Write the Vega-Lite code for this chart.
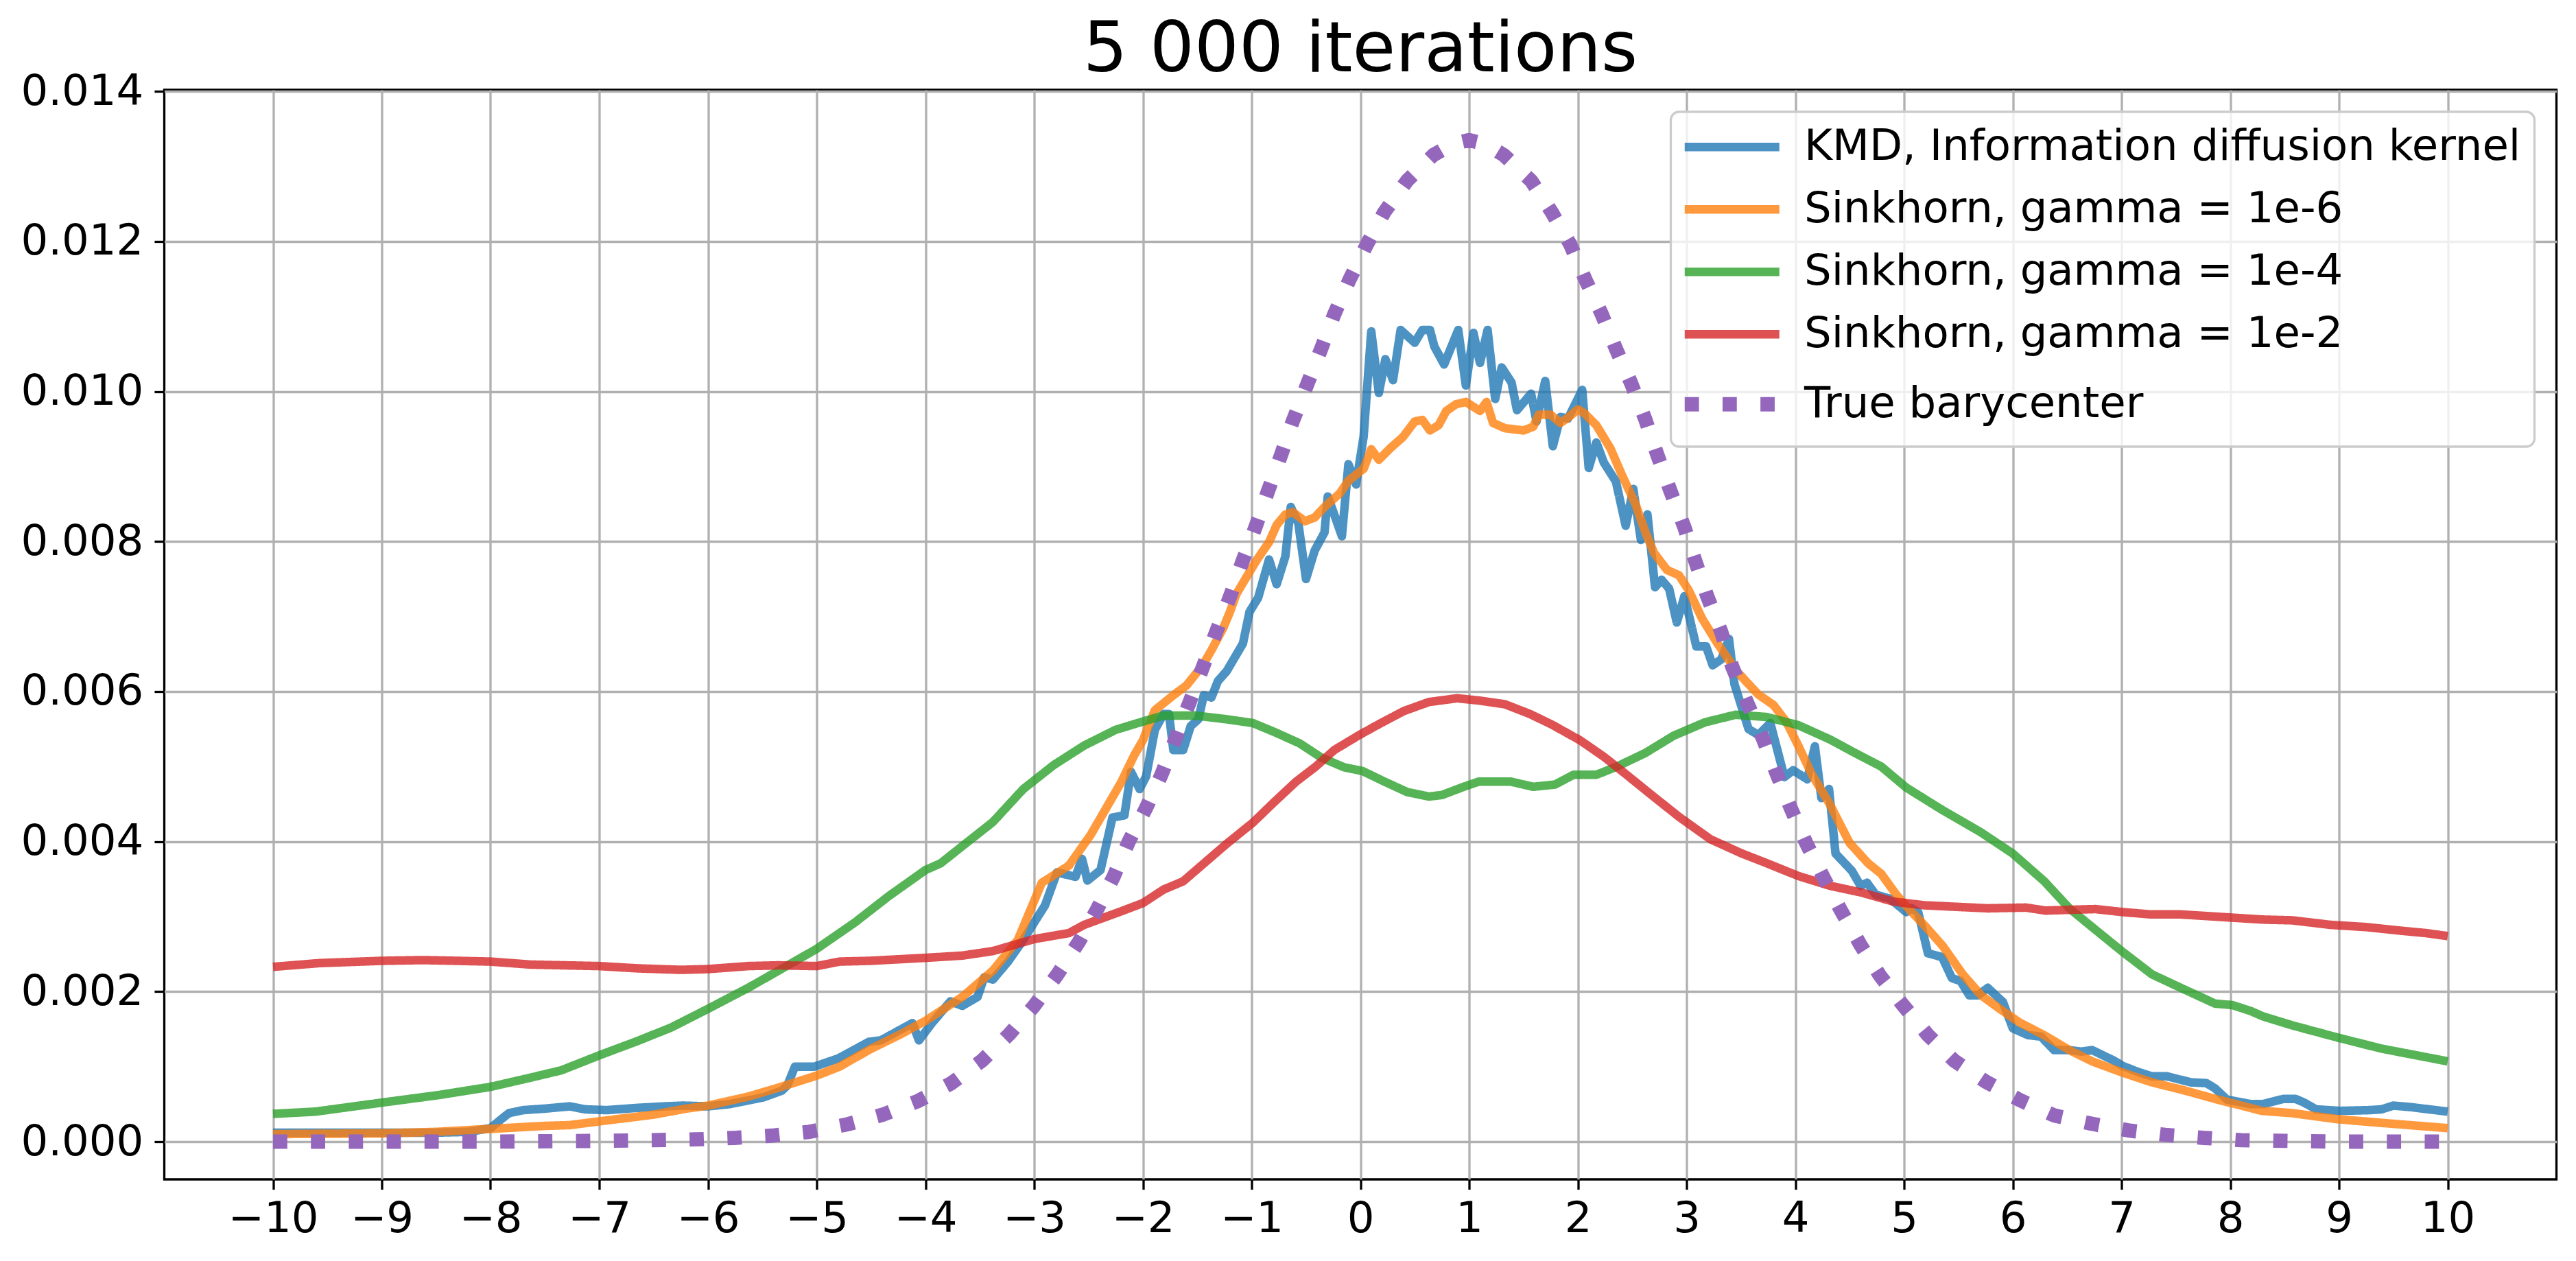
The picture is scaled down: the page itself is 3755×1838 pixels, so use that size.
{
  "$schema": "https://vega.github.io/schema/vega-lite/v6.json",
  "width": 3487,
  "height": 1588,
  "autosize": {"type": "none"},
  "padding": {"left": 239.5, "top": 131, "right": 28.5, "bottom": 119},
  "background": "white",
  "title": {"text": "5 000 iterations", "fontSize": 102, "font": "DejaVu Sans", "fontWeight": "normal", "color": "black", "anchor": "middle", "baseline": "alphabetic", "offset": -104},
  "config": {
    "font": "DejaVu Sans",
    "view": {"stroke": "black", "strokeWidth": 3.3},
    "axis": {"labelFont": "DejaVu Sans", "labelFontSize": 62.5, "labelColor": "black", "tickColor": "black", "tickWidth": 3.3, "tickSize": 14.6, "grid": true, "gridColor": "#b0b0b0", "gridWidth": 3.3, "domain": false, "title": null, "labelOverlap": false, "labelFlush": false},
    "legend": {"fillColor": "rgba(255,255,255,0.8)", "strokeColor": "#cccccc", "cornerRadius": 12, "strokeWidth": 3.3, "padding": 20, "rowPadding": 28, "labelLimit": 3000}
  },
  "data": {"values": [
    {"s":"KMD, Information diffusion kernel","x":-10,"y":0.00012},
    {"s":"KMD, Information diffusion kernel","x":-9.5,"y":0.00012},
    {"s":"KMD, Information diffusion kernel","x":-9,"y":0.00012},
    {"s":"KMD, Information diffusion kernel","x":-8.5,"y":0.00012},
    {"s":"KMD, Information diffusion kernel","x":-8.2,"y":0.00013},
    {"s":"KMD, Information diffusion kernel","x":-8,"y":0.00018},
    {"s":"KMD, Information diffusion kernel","x":-7.9,"y":0.0003},
    {"s":"KMD, Information diffusion kernel","x":-7.83,"y":0.00038},
    {"s":"KMD, Information diffusion kernel","x":-7.7,"y":0.00042},
    {"s":"KMD, Information diffusion kernel","x":-7.5,"y":0.00044},
    {"s":"KMD, Information diffusion kernel","x":-7.35,"y":0.00046},
    {"s":"KMD, Information diffusion kernel","x":-7.27,"y":0.00047},
    {"s":"KMD, Information diffusion kernel","x":-7.13,"y":0.00043},
    {"s":"KMD, Information diffusion kernel","x":-6.93,"y":0.00042},
    {"s":"KMD, Information diffusion kernel","x":-6.65,"y":0.00045},
    {"s":"KMD, Information diffusion kernel","x":-6.4,"y":0.00047},
    {"s":"KMD, Information diffusion kernel","x":-6.23,"y":0.00048},
    {"s":"KMD, Information diffusion kernel","x":-6,"y":0.00047},
    {"s":"KMD, Information diffusion kernel","x":-5.8,"y":0.0005},
    {"s":"KMD, Information diffusion kernel","x":-5.49,"y":0.00059},
    {"s":"KMD, Information diffusion kernel","x":-5.32,"y":0.00068},
    {"s":"KMD, Information diffusion kernel","x":-5.27,"y":0.00075},
    {"s":"KMD, Information diffusion kernel","x":-5.2,"y":0.001},
    {"s":"KMD, Information diffusion kernel","x":-5.02,"y":0.001},
    {"s":"KMD, Information diffusion kernel","x":-4.8,"y":0.00111},
    {"s":"KMD, Information diffusion kernel","x":-4.52,"y":0.00133},
    {"s":"KMD, Information diffusion kernel","x":-4.41,"y":0.00135},
    {"s":"KMD, Information diffusion kernel","x":-4.12,"y":0.00158},
    {"s":"KMD, Information diffusion kernel","x":-4.06,"y":0.00135},
    {"s":"KMD, Information diffusion kernel","x":-3.94,"y":0.00158},
    {"s":"KMD, Information diffusion kernel","x":-3.77,"y":0.00187},
    {"s":"KMD, Information diffusion kernel","x":-3.66,"y":0.00181},
    {"s":"KMD, Information diffusion kernel","x":-3.52,"y":0.00193},
    {"s":"KMD, Information diffusion kernel","x":-3.46,"y":0.00219},
    {"s":"KMD, Information diffusion kernel","x":-3.38,"y":0.00216},
    {"s":"KMD, Information diffusion kernel","x":-3.24,"y":0.0024},
    {"s":"KMD, Information diffusion kernel","x":-3.1,"y":0.00269},
    {"s":"KMD, Information diffusion kernel","x":-2.9,"y":0.00315},
    {"s":"KMD, Information diffusion kernel","x":-2.79,"y":0.00359},
    {"s":"KMD, Information diffusion kernel","x":-2.62,"y":0.00353},
    {"s":"KMD, Information diffusion kernel","x":-2.56,"y":0.00377},
    {"s":"KMD, Information diffusion kernel","x":-2.51,"y":0.00348},
    {"s":"KMD, Information diffusion kernel","x":-2.39,"y":0.00362},
    {"s":"KMD, Information diffusion kernel","x":-2.28,"y":0.00432},
    {"s":"KMD, Information diffusion kernel","x":-2.17,"y":0.00435},
    {"s":"KMD, Information diffusion kernel","x":-2.11,"y":0.00493},
    {"s":"KMD, Information diffusion kernel","x":-2.03,"y":0.0047},
    {"s":"KMD, Information diffusion kernel","x":-1.97,"y":0.00487},
    {"s":"KMD, Information diffusion kernel","x":-1.89,"y":0.00549},
    {"s":"KMD, Information diffusion kernel","x":-1.81,"y":0.0057},
    {"s":"KMD, Information diffusion kernel","x":-1.76,"y":0.0057},
    {"s":"KMD, Information diffusion kernel","x":-1.72,"y":0.00522},
    {"s":"KMD, Information diffusion kernel","x":-1.63,"y":0.00522},
    {"s":"KMD, Information diffusion kernel","x":-1.56,"y":0.00554},
    {"s":"KMD, Information diffusion kernel","x":-1.49,"y":0.00563},
    {"s":"KMD, Information diffusion kernel","x":-1.44,"y":0.00595},
    {"s":"KMD, Information diffusion kernel","x":-1.37,"y":0.00592},
    {"s":"KMD, Information diffusion kernel","x":-1.31,"y":0.00614},
    {"s":"KMD, Information diffusion kernel","x":-1.23,"y":0.00627},
    {"s":"KMD, Information diffusion kernel","x":-1.08,"y":0.00664},
    {"s":"KMD, Information diffusion kernel","x":-1.02,"y":0.00706},
    {"s":"KMD, Information diffusion kernel","x":-0.94,"y":0.00725},
    {"s":"KMD, Information diffusion kernel","x":-0.84,"y":0.00776},
    {"s":"KMD, Information diffusion kernel","x":-0.77,"y":0.00743},
    {"s":"KMD, Information diffusion kernel","x":-0.69,"y":0.0078},
    {"s":"KMD, Information diffusion kernel","x":-0.64,"y":0.00846},
    {"s":"KMD, Information diffusion kernel","x":-0.57,"y":0.00824},
    {"s":"KMD, Information diffusion kernel","x":-0.5,"y":0.0075},
    {"s":"KMD, Information diffusion kernel","x":-0.42,"y":0.00788},
    {"s":"KMD, Information diffusion kernel","x":-0.33,"y":0.00812},
    {"s":"KMD, Information diffusion kernel","x":-0.3,"y":0.0086},
    {"s":"KMD, Information diffusion kernel","x":-0.26,"y":0.00844},
    {"s":"KMD, Information diffusion kernel","x":-0.17,"y":0.00807},
    {"s":"KMD, Information diffusion kernel","x":-0.11,"y":0.00903},
    {"s":"KMD, Information diffusion kernel","x":-0.04,"y":0.00876},
    {"s":"KMD, Information diffusion kernel","x":0.03,"y":0.0094},
    {"s":"KMD, Information diffusion kernel","x":0.1,"y":0.0108},
    {"s":"KMD, Information diffusion kernel","x":0.17,"y":0.00998},
    {"s":"KMD, Information diffusion kernel","x":0.23,"y":0.01043},
    {"s":"KMD, Information diffusion kernel","x":0.3,"y":0.01015},
    {"s":"KMD, Information diffusion kernel","x":0.37,"y":0.01082},
    {"s":"KMD, Information diffusion kernel","x":0.5,"y":0.01065},
    {"s":"KMD, Information diffusion kernel","x":0.57,"y":0.01082},
    {"s":"KMD, Information diffusion kernel","x":0.64,"y":0.01082},
    {"s":"KMD, Information diffusion kernel","x":0.68,"y":0.0106},
    {"s":"KMD, Information diffusion kernel","x":0.77,"y":0.01036},
    {"s":"KMD, Information diffusion kernel","x":0.9,"y":0.01082},
    {"s":"KMD, Information diffusion kernel","x":0.97,"y":0.01008},
    {"s":"KMD, Information diffusion kernel","x":1.04,"y":0.01078},
    {"s":"KMD, Information diffusion kernel","x":1.1,"y":0.01038},
    {"s":"KMD, Information diffusion kernel","x":1.17,"y":0.01082},
    {"s":"KMD, Information diffusion kernel","x":1.24,"y":0.0099},
    {"s":"KMD, Information diffusion kernel","x":1.3,"y":0.01032},
    {"s":"KMD, Information diffusion kernel","x":1.39,"y":0.01012},
    {"s":"KMD, Information diffusion kernel","x":1.44,"y":0.00975},
    {"s":"KMD, Information diffusion kernel","x":1.57,"y":0.00997},
    {"s":"KMD, Information diffusion kernel","x":1.62,"y":0.0096},
    {"s":"KMD, Information diffusion kernel","x":1.7,"y":0.01014},
    {"s":"KMD, Information diffusion kernel","x":1.77,"y":0.00927},
    {"s":"KMD, Information diffusion kernel","x":1.84,"y":0.00966},
    {"s":"KMD, Information diffusion kernel","x":1.91,"y":0.00964},
    {"s":"KMD, Information diffusion kernel","x":2.04,"y":0.01002},
    {"s":"KMD, Information diffusion kernel","x":2.1,"y":0.00898},
    {"s":"KMD, Information diffusion kernel","x":2.17,"y":0.00932},
    {"s":"KMD, Information diffusion kernel","x":2.24,"y":0.00905},
    {"s":"KMD, Information diffusion kernel","x":2.35,"y":0.0088},
    {"s":"KMD, Information diffusion kernel","x":2.44,"y":0.00821},
    {"s":"KMD, Information diffusion kernel","x":2.51,"y":0.0087},
    {"s":"KMD, Information diffusion kernel","x":2.58,"y":0.00802},
    {"s":"KMD, Information diffusion kernel","x":2.64,"y":0.00836},
    {"s":"KMD, Information diffusion kernel","x":2.71,"y":0.00739},
    {"s":"KMD, Information diffusion kernel","x":2.77,"y":0.00749},
    {"s":"KMD, Information diffusion kernel","x":2.84,"y":0.00737},
    {"s":"KMD, Information diffusion kernel","x":2.91,"y":0.00692},
    {"s":"KMD, Information diffusion kernel","x":2.98,"y":0.00727},
    {"s":"KMD, Information diffusion kernel","x":3.09,"y":0.0066},
    {"s":"KMD, Information diffusion kernel","x":3.18,"y":0.0066},
    {"s":"KMD, Information diffusion kernel","x":3.24,"y":0.00635},
    {"s":"KMD, Information diffusion kernel","x":3.32,"y":0.00643},
    {"s":"KMD, Information diffusion kernel","x":3.39,"y":0.0067},
    {"s":"KMD, Information diffusion kernel","x":3.44,"y":0.0061},
    {"s":"KMD, Information diffusion kernel","x":3.57,"y":0.0055},
    {"s":"KMD, Information diffusion kernel","x":3.66,"y":0.00542},
    {"s":"KMD, Information diffusion kernel","x":3.77,"y":0.00558},
    {"s":"KMD, Information diffusion kernel","x":3.9,"y":0.00486},
    {"s":"KMD, Information diffusion kernel","x":3.98,"y":0.00495},
    {"s":"KMD, Information diffusion kernel","x":4.11,"y":0.00483},
    {"s":"KMD, Information diffusion kernel","x":4.18,"y":0.00527},
    {"s":"KMD, Information diffusion kernel","x":4.24,"y":0.00458},
    {"s":"KMD, Information diffusion kernel","x":4.31,"y":0.0047},
    {"s":"KMD, Information diffusion kernel","x":4.37,"y":0.00384},
    {"s":"KMD, Information diffusion kernel","x":4.52,"y":0.00361},
    {"s":"KMD, Information diffusion kernel","x":4.6,"y":0.00341},
    {"s":"KMD, Information diffusion kernel","x":4.66,"y":0.00345},
    {"s":"KMD, Information diffusion kernel","x":4.74,"y":0.00329},
    {"s":"KMD, Information diffusion kernel","x":4.87,"y":0.00324},
    {"s":"KMD, Information diffusion kernel","x":5.02,"y":0.00306},
    {"s":"KMD, Information diffusion kernel","x":5.07,"y":0.00311},
    {"s":"KMD, Information diffusion kernel","x":5.13,"y":0.00306},
    {"s":"KMD, Information diffusion kernel","x":5.22,"y":0.00251},
    {"s":"KMD, Information diffusion kernel","x":5.35,"y":0.00246},
    {"s":"KMD, Information diffusion kernel","x":5.44,"y":0.00218},
    {"s":"KMD, Information diffusion kernel","x":5.52,"y":0.00214},
    {"s":"KMD, Information diffusion kernel","x":5.6,"y":0.00195},
    {"s":"KMD, Information diffusion kernel","x":5.68,"y":0.00195},
    {"s":"KMD, Information diffusion kernel","x":5.77,"y":0.00205},
    {"s":"KMD, Information diffusion kernel","x":5.91,"y":0.00186},
    {"s":"KMD, Information diffusion kernel","x":6,"y":0.00151},
    {"s":"KMD, Information diffusion kernel","x":6.14,"y":0.00142},
    {"s":"KMD, Information diffusion kernel","x":6.26,"y":0.0014},
    {"s":"KMD, Information diffusion kernel","x":6.38,"y":0.00122},
    {"s":"KMD, Information diffusion kernel","x":6.52,"y":0.00122},
    {"s":"KMD, Information diffusion kernel","x":6.63,"y":0.0012},
    {"s":"KMD, Information diffusion kernel","x":6.73,"y":0.00122},
    {"s":"KMD, Information diffusion kernel","x":6.93,"y":0.00108},
    {"s":"KMD, Information diffusion kernel","x":7.01,"y":0.00101},
    {"s":"KMD, Information diffusion kernel","x":7.15,"y":0.00093},
    {"s":"KMD, Information diffusion kernel","x":7.28,"y":0.00087},
    {"s":"KMD, Information diffusion kernel","x":7.42,"y":0.00087},
    {"s":"KMD, Information diffusion kernel","x":7.64,"y":0.00079},
    {"s":"KMD, Information diffusion kernel","x":7.78,"y":0.00078},
    {"s":"KMD, Information diffusion kernel","x":7.86,"y":0.00071},
    {"s":"KMD, Information diffusion kernel","x":7.97,"y":0.00056},
    {"s":"KMD, Information diffusion kernel","x":8.19,"y":0.0005},
    {"s":"KMD, Information diffusion kernel","x":8.3,"y":0.0005},
    {"s":"KMD, Information diffusion kernel","x":8.49,"y":0.00057},
    {"s":"KMD, Information diffusion kernel","x":8.6,"y":0.00057},
    {"s":"KMD, Information diffusion kernel","x":8.68,"y":0.00052},
    {"s":"KMD, Information diffusion kernel","x":8.79,"y":0.00043},
    {"s":"KMD, Information diffusion kernel","x":9.01,"y":0.00041},
    {"s":"KMD, Information diffusion kernel","x":9.28,"y":0.00042},
    {"s":"KMD, Information diffusion kernel","x":9.39,"y":0.00043},
    {"s":"KMD, Information diffusion kernel","x":9.5,"y":0.00048},
    {"s":"KMD, Information diffusion kernel","x":9.66,"y":0.00046},
    {"s":"KMD, Information diffusion kernel","x":10,"y":0.0004},

    {"s":"Sinkhorn, gamma = 1e-6","x":-10,"y":0.0001},
    {"s":"Sinkhorn, gamma = 1e-6","x":-9,"y":0.00011},
    {"s":"Sinkhorn, gamma = 1e-6","x":-8.5,"y":0.00013},
    {"s":"Sinkhorn, gamma = 1e-6","x":-8,"y":0.00017},
    {"s":"Sinkhorn, gamma = 1e-6","x":-7.5,"y":0.00021},
    {"s":"Sinkhorn, gamma = 1e-6","x":-7.27,"y":0.00022},
    {"s":"Sinkhorn, gamma = 1e-6","x":-7,"y":0.00027},
    {"s":"Sinkhorn, gamma = 1e-6","x":-6.5,"y":0.00036},
    {"s":"Sinkhorn, gamma = 1e-6","x":-6.2,"y":0.00044},
    {"s":"Sinkhorn, gamma = 1e-6","x":-6,"y":0.00048},
    {"s":"Sinkhorn, gamma = 1e-6","x":-5.63,"y":0.0006},
    {"s":"Sinkhorn, gamma = 1e-6","x":-5.35,"y":0.00072},
    {"s":"Sinkhorn, gamma = 1e-6","x":-5,"y":0.00088},
    {"s":"Sinkhorn, gamma = 1e-6","x":-4.79,"y":0.001},
    {"s":"Sinkhorn, gamma = 1e-6","x":-4.51,"y":0.00123},
    {"s":"Sinkhorn, gamma = 1e-6","x":-4.23,"y":0.00143},
    {"s":"Sinkhorn, gamma = 1e-6","x":-4,"y":0.00161},
    {"s":"Sinkhorn, gamma = 1e-6","x":-3.66,"y":0.00193},
    {"s":"Sinkhorn, gamma = 1e-6","x":-3.38,"y":0.00228},
    {"s":"Sinkhorn, gamma = 1e-6","x":-3.15,"y":0.00269},
    {"s":"Sinkhorn, gamma = 1e-6","x":-2.93,"y":0.00345},
    {"s":"Sinkhorn, gamma = 1e-6","x":-2.68,"y":0.00368},
    {"s":"Sinkhorn, gamma = 1e-6","x":-2.48,"y":0.00409},
    {"s":"Sinkhorn, gamma = 1e-6","x":-2.2,"y":0.00479},
    {"s":"Sinkhorn, gamma = 1e-6","x":-2.08,"y":0.00515},
    {"s":"Sinkhorn, gamma = 1e-6","x":-2,"y":0.00535},
    {"s":"Sinkhorn, gamma = 1e-6","x":-1.89,"y":0.00575},
    {"s":"Sinkhorn, gamma = 1e-6","x":-1.78,"y":0.00588},
    {"s":"Sinkhorn, gamma = 1e-6","x":-1.72,"y":0.00595},
    {"s":"Sinkhorn, gamma = 1e-6","x":-1.6,"y":0.00608},
    {"s":"Sinkhorn, gamma = 1e-6","x":-1.45,"y":0.00635},
    {"s":"Sinkhorn, gamma = 1e-6","x":-1.37,"y":0.00655},
    {"s":"Sinkhorn, gamma = 1e-6","x":-1.26,"y":0.00685},
    {"s":"Sinkhorn, gamma = 1e-6","x":-1.2,"y":0.00706},
    {"s":"Sinkhorn, gamma = 1e-6","x":-1.14,"y":0.0073},
    {"s":"Sinkhorn, gamma = 1e-6","x":-1.05,"y":0.00752},
    {"s":"Sinkhorn, gamma = 1e-6","x":-0.95,"y":0.00776},
    {"s":"Sinkhorn, gamma = 1e-6","x":-0.84,"y":0.00799},
    {"s":"Sinkhorn, gamma = 1e-6","x":-0.77,"y":0.00822},
    {"s":"Sinkhorn, gamma = 1e-6","x":-0.69,"y":0.00836},
    {"s":"Sinkhorn, gamma = 1e-6","x":-0.62,"y":0.00839},
    {"s":"Sinkhorn, gamma = 1e-6","x":-0.51,"y":0.00827},
    {"s":"Sinkhorn, gamma = 1e-6","x":-0.42,"y":0.00832},
    {"s":"Sinkhorn, gamma = 1e-6","x":-0.33,"y":0.00846},
    {"s":"Sinkhorn, gamma = 1e-6","x":-0.19,"y":0.00864},
    {"s":"Sinkhorn, gamma = 1e-6","x":-0.11,"y":0.00881},
    {"s":"Sinkhorn, gamma = 1e-6","x":0.03,"y":0.00897},
    {"s":"Sinkhorn, gamma = 1e-6","x":0.1,"y":0.00923},
    {"s":"Sinkhorn, gamma = 1e-6","x":0.17,"y":0.00909},
    {"s":"Sinkhorn, gamma = 1e-6","x":0.28,"y":0.00925},
    {"s":"Sinkhorn, gamma = 1e-6","x":0.39,"y":0.00939},
    {"s":"Sinkhorn, gamma = 1e-6","x":0.5,"y":0.0096},
    {"s":"Sinkhorn, gamma = 1e-6","x":0.57,"y":0.00962},
    {"s":"Sinkhorn, gamma = 1e-6","x":0.64,"y":0.00948},
    {"s":"Sinkhorn, gamma = 1e-6","x":0.72,"y":0.00955},
    {"s":"Sinkhorn, gamma = 1e-6","x":0.79,"y":0.00974},
    {"s":"Sinkhorn, gamma = 1e-6","x":0.88,"y":0.00983},
    {"s":"Sinkhorn, gamma = 1e-6","x":0.97,"y":0.00986},
    {"s":"Sinkhorn, gamma = 1e-6","x":1.1,"y":0.00974},
    {"s":"Sinkhorn, gamma = 1e-6","x":1.16,"y":0.00986},
    {"s":"Sinkhorn, gamma = 1e-6","x":1.22,"y":0.00958},
    {"s":"Sinkhorn, gamma = 1e-6","x":1.33,"y":0.00951},
    {"s":"Sinkhorn, gamma = 1e-6","x":1.5,"y":0.00948},
    {"s":"Sinkhorn, gamma = 1e-6","x":1.59,"y":0.00953},
    {"s":"Sinkhorn, gamma = 1e-6","x":1.64,"y":0.00969},
    {"s":"Sinkhorn, gamma = 1e-6","x":1.75,"y":0.00969},
    {"s":"Sinkhorn, gamma = 1e-6","x":1.84,"y":0.00958},
    {"s":"Sinkhorn, gamma = 1e-6","x":1.91,"y":0.00965},
    {"s":"Sinkhorn, gamma = 1e-6","x":2,"y":0.00976},
    {"s":"Sinkhorn, gamma = 1e-6","x":2.06,"y":0.00971},
    {"s":"Sinkhorn, gamma = 1e-6","x":2.17,"y":0.00955},
    {"s":"Sinkhorn, gamma = 1e-6","x":2.3,"y":0.00924},
    {"s":"Sinkhorn, gamma = 1e-6","x":2.41,"y":0.00887},
    {"s":"Sinkhorn, gamma = 1e-6","x":2.53,"y":0.0085},
    {"s":"Sinkhorn, gamma = 1e-6","x":2.62,"y":0.00813},
    {"s":"Sinkhorn, gamma = 1e-6","x":2.7,"y":0.00785},
    {"s":"Sinkhorn, gamma = 1e-6","x":2.82,"y":0.00762},
    {"s":"Sinkhorn, gamma = 1e-6","x":2.93,"y":0.00755},
    {"s":"Sinkhorn, gamma = 1e-6","x":3.02,"y":0.00735},
    {"s":"Sinkhorn, gamma = 1e-6","x":3.14,"y":0.00698},
    {"s":"Sinkhorn, gamma = 1e-6","x":3.28,"y":0.00665},
    {"s":"Sinkhorn, gamma = 1e-6","x":3.45,"y":0.00629},
    {"s":"Sinkhorn, gamma = 1e-6","x":3.55,"y":0.00613},
    {"s":"Sinkhorn, gamma = 1e-6","x":3.66,"y":0.00596},
    {"s":"Sinkhorn, gamma = 1e-6","x":3.8,"y":0.00582},
    {"s":"Sinkhorn, gamma = 1e-6","x":3.92,"y":0.00559},
    {"s":"Sinkhorn, gamma = 1e-6","x":4.03,"y":0.00527},
    {"s":"Sinkhorn, gamma = 1e-6","x":4.15,"y":0.0049},
    {"s":"Sinkhorn, gamma = 1e-6","x":4.32,"y":0.00449},
    {"s":"Sinkhorn, gamma = 1e-6","x":4.5,"y":0.00398},
    {"s":"Sinkhorn, gamma = 1e-6","x":4.67,"y":0.00371},
    {"s":"Sinkhorn, gamma = 1e-6","x":4.79,"y":0.00357},
    {"s":"Sinkhorn, gamma = 1e-6","x":4.93,"y":0.00329},
    {"s":"Sinkhorn, gamma = 1e-6","x":5.07,"y":0.00306},
    {"s":"Sinkhorn, gamma = 1e-6","x":5.19,"y":0.00288},
    {"s":"Sinkhorn, gamma = 1e-6","x":5.36,"y":0.0026},
    {"s":"Sinkhorn, gamma = 1e-6","x":5.54,"y":0.00223},
    {"s":"Sinkhorn, gamma = 1e-6","x":5.71,"y":0.00195},
    {"s":"Sinkhorn, gamma = 1e-6","x":5.88,"y":0.00177},
    {"s":"Sinkhorn, gamma = 1e-6","x":6.06,"y":0.00159},
    {"s":"Sinkhorn, gamma = 1e-6","x":6.3,"y":0.00141},
    {"s":"Sinkhorn, gamma = 1e-6","x":6.52,"y":0.00122},
    {"s":"Sinkhorn, gamma = 1e-6","x":6.73,"y":0.00107},
    {"s":"Sinkhorn, gamma = 1e-6","x":7.01,"y":0.00092},
    {"s":"Sinkhorn, gamma = 1e-6","x":7.28,"y":0.00079},
    {"s":"Sinkhorn, gamma = 1e-6","x":7.56,"y":0.00069},
    {"s":"Sinkhorn, gamma = 1e-6","x":7.86,"y":0.00057},
    {"s":"Sinkhorn, gamma = 1e-6","x":8.29,"y":0.00041},
    {"s":"Sinkhorn, gamma = 1e-6","x":8.57,"y":0.00038},
    {"s":"Sinkhorn, gamma = 1e-6","x":8.98,"y":0.0003},
    {"s":"Sinkhorn, gamma = 1e-6","x":9.39,"y":0.00025},
    {"s":"Sinkhorn, gamma = 1e-6","x":10,"y":0.00018},

    {"s":"Sinkhorn, gamma = 1e-4","x":-10,"y":0.00037},
    {"s":"Sinkhorn, gamma = 1e-4","x":-9.61,"y":0.0004},
    {"s":"Sinkhorn, gamma = 1e-4","x":-9,"y":0.00052},
    {"s":"Sinkhorn, gamma = 1e-4","x":-8.48,"y":0.00062},
    {"s":"Sinkhorn, gamma = 1e-4","x":-8,"y":0.00073},
    {"s":"Sinkhorn, gamma = 1e-4","x":-7.64,"y":0.00085},
    {"s":"Sinkhorn, gamma = 1e-4","x":-7.35,"y":0.00095},
    {"s":"Sinkhorn, gamma = 1e-4","x":-7,"y":0.00115},
    {"s":"Sinkhorn, gamma = 1e-4","x":-6.65,"y":0.00134},
    {"s":"Sinkhorn, gamma = 1e-4","x":-6.34,"y":0.00152},
    {"s":"Sinkhorn, gamma = 1e-4","x":-6,"y":0.00177},
    {"s":"Sinkhorn, gamma = 1e-4","x":-5.63,"y":0.00205},
    {"s":"Sinkhorn, gamma = 1e-4","x":-5.35,"y":0.00228},
    {"s":"Sinkhorn, gamma = 1e-4","x":-5,"y":0.00257},
    {"s":"Sinkhorn, gamma = 1e-4","x":-4.65,"y":0.00292},
    {"s":"Sinkhorn, gamma = 1e-4","x":-4.34,"y":0.00327},
    {"s":"Sinkhorn, gamma = 1e-4","x":-4,"y":0.00362},
    {"s":"Sinkhorn, gamma = 1e-4","x":-3.86,"y":0.00371},
    {"s":"Sinkhorn, gamma = 1e-4","x":-3.66,"y":0.00394},
    {"s":"Sinkhorn, gamma = 1e-4","x":-3.38,"y":0.00426},
    {"s":"Sinkhorn, gamma = 1e-4","x":-3.1,"y":0.0047},
    {"s":"Sinkhorn, gamma = 1e-4","x":-2.82,"y":0.00502},
    {"s":"Sinkhorn, gamma = 1e-4","x":-2.54,"y":0.00528},
    {"s":"Sinkhorn, gamma = 1e-4","x":-2.25,"y":0.00549},
    {"s":"Sinkhorn, gamma = 1e-4","x":-2,"y":0.0056},
    {"s":"Sinkhorn, gamma = 1e-4","x":-1.81,"y":0.00568},
    {"s":"Sinkhorn, gamma = 1e-4","x":-1.52,"y":0.00568},
    {"s":"Sinkhorn, gamma = 1e-4","x":-1.23,"y":0.00563},
    {"s":"Sinkhorn, gamma = 1e-4","x":-0.99,"y":0.00558},
    {"s":"Sinkhorn, gamma = 1e-4","x":-0.79,"y":0.00546},
    {"s":"Sinkhorn, gamma = 1e-4","x":-0.56,"y":0.00531},
    {"s":"Sinkhorn, gamma = 1e-4","x":-0.36,"y":0.00512},
    {"s":"Sinkhorn, gamma = 1e-4","x":-0.15,"y":0.00499},
    {"s":"Sinkhorn, gamma = 1e-4","x":0.02,"y":0.00494},
    {"s":"Sinkhorn, gamma = 1e-4","x":0.22,"y":0.0048},
    {"s":"Sinkhorn, gamma = 1e-4","x":0.43,"y":0.00466},
    {"s":"Sinkhorn, gamma = 1e-4","x":0.63,"y":0.0046},
    {"s":"Sinkhorn, gamma = 1e-4","x":0.75,"y":0.00462},
    {"s":"Sinkhorn, gamma = 1e-4","x":0.95,"y":0.00473},
    {"s":"Sinkhorn, gamma = 1e-4","x":1.09,"y":0.0048},
    {"s":"Sinkhorn, gamma = 1e-4","x":1.38,"y":0.0048},
    {"s":"Sinkhorn, gamma = 1e-4","x":1.59,"y":0.00473},
    {"s":"Sinkhorn, gamma = 1e-4","x":1.79,"y":0.00476},
    {"s":"Sinkhorn, gamma = 1e-4","x":1.96,"y":0.00489},
    {"s":"Sinkhorn, gamma = 1e-4","x":2.17,"y":0.00489},
    {"s":"Sinkhorn, gamma = 1e-4","x":2.36,"y":0.005},
    {"s":"Sinkhorn, gamma = 1e-4","x":2.62,"y":0.00518},
    {"s":"Sinkhorn, gamma = 1e-4","x":2.88,"y":0.00541},
    {"s":"Sinkhorn, gamma = 1e-4","x":3.17,"y":0.00559},
    {"s":"Sinkhorn, gamma = 1e-4","x":3.45,"y":0.00569},
    {"s":"Sinkhorn, gamma = 1e-4","x":3.74,"y":0.00566},
    {"s":"Sinkhorn, gamma = 1e-4","x":4.03,"y":0.00555},
    {"s":"Sinkhorn, gamma = 1e-4","x":4.32,"y":0.00536},
    {"s":"Sinkhorn, gamma = 1e-4","x":4.55,"y":0.00518},
    {"s":"Sinkhorn, gamma = 1e-4","x":4.79,"y":0.005},
    {"s":"Sinkhorn, gamma = 1e-4","x":5.02,"y":0.00472},
    {"s":"Sinkhorn, gamma = 1e-4","x":5.33,"y":0.00444},
    {"s":"Sinkhorn, gamma = 1e-4","x":5.71,"y":0.00412},
    {"s":"Sinkhorn, gamma = 1e-4","x":6,"y":0.00384},
    {"s":"Sinkhorn, gamma = 1e-4","x":6.29,"y":0.00347},
    {"s":"Sinkhorn, gamma = 1e-4","x":6.52,"y":0.00311},
    {"s":"Sinkhorn, gamma = 1e-4","x":6.73,"y":0.00286},
    {"s":"Sinkhorn, gamma = 1e-4","x":7.01,"y":0.00253},
    {"s":"Sinkhorn, gamma = 1e-4","x":7.28,"y":0.00223},
    {"s":"Sinkhorn, gamma = 1e-4","x":7.56,"y":0.00204},
    {"s":"Sinkhorn, gamma = 1e-4","x":7.86,"y":0.00184},
    {"s":"Sinkhorn, gamma = 1e-4","x":8.02,"y":0.00182},
    {"s":"Sinkhorn, gamma = 1e-4","x":8.19,"y":0.00174},
    {"s":"Sinkhorn, gamma = 1e-4","x":8.3,"y":0.00167},
    {"s":"Sinkhorn, gamma = 1e-4","x":8.57,"y":0.00155},
    {"s":"Sinkhorn, gamma = 1e-4","x":8.98,"y":0.00139},
    {"s":"Sinkhorn, gamma = 1e-4","x":9.39,"y":0.00124},
    {"s":"Sinkhorn, gamma = 1e-4","x":9.75,"y":0.00114},
    {"s":"Sinkhorn, gamma = 1e-4","x":10,"y":0.00107},

    {"s":"Sinkhorn, gamma = 1e-2","x":-10,"y":0.00233},
    {"s":"Sinkhorn, gamma = 1e-2","x":-9.57,"y":0.00238},
    {"s":"Sinkhorn, gamma = 1e-2","x":-9,"y":0.00241},
    {"s":"Sinkhorn, gamma = 1e-2","x":-8.62,"y":0.00242},
    {"s":"Sinkhorn, gamma = 1e-2","x":-8,"y":0.0024},
    {"s":"Sinkhorn, gamma = 1e-2","x":-7.63,"y":0.00236},
    {"s":"Sinkhorn, gamma = 1e-2","x":-7,"y":0.00234},
    {"s":"Sinkhorn, gamma = 1e-2","x":-6.65,"y":0.00231},
    {"s":"Sinkhorn, gamma = 1e-2","x":-6.25,"y":0.00229},
    {"s":"Sinkhorn, gamma = 1e-2","x":-6,"y":0.0023},
    {"s":"Sinkhorn, gamma = 1e-2","x":-5.63,"y":0.00234},
    {"s":"Sinkhorn, gamma = 1e-2","x":-5.35,"y":0.00235},
    {"s":"Sinkhorn, gamma = 1e-2","x":-5,"y":0.00234},
    {"s":"Sinkhorn, gamma = 1e-2","x":-4.79,"y":0.0024},
    {"s":"Sinkhorn, gamma = 1e-2","x":-4.51,"y":0.00241},
    {"s":"Sinkhorn, gamma = 1e-2","x":-4,"y":0.00245},
    {"s":"Sinkhorn, gamma = 1e-2","x":-3.66,"y":0.00248},
    {"s":"Sinkhorn, gamma = 1e-2","x":-3.38,"y":0.00254},
    {"s":"Sinkhorn, gamma = 1e-2","x":-3,"y":0.0027},
    {"s":"Sinkhorn, gamma = 1e-2","x":-2.68,"y":0.00278},
    {"s":"Sinkhorn, gamma = 1e-2","x":-2.54,"y":0.00289},
    {"s":"Sinkhorn, gamma = 1e-2","x":-2.2,"y":0.00307},
    {"s":"Sinkhorn, gamma = 1e-2","x":-2,"y":0.00318},
    {"s":"Sinkhorn, gamma = 1e-2","x":-1.81,"y":0.00336},
    {"s":"Sinkhorn, gamma = 1e-2","x":-1.63,"y":0.00347},
    {"s":"Sinkhorn, gamma = 1e-2","x":-1.43,"y":0.00372},
    {"s":"Sinkhorn, gamma = 1e-2","x":-1.23,"y":0.00397},
    {"s":"Sinkhorn, gamma = 1e-2","x":-0.99,"y":0.00425},
    {"s":"Sinkhorn, gamma = 1e-2","x":-0.79,"y":0.00453},
    {"s":"Sinkhorn, gamma = 1e-2","x":-0.59,"y":0.0048},
    {"s":"Sinkhorn, gamma = 1e-2","x":-0.41,"y":0.005},
    {"s":"Sinkhorn, gamma = 1e-2","x":-0.24,"y":0.00522},
    {"s":"Sinkhorn, gamma = 1e-2","x":-0.01,"y":0.00542},
    {"s":"Sinkhorn, gamma = 1e-2","x":0.19,"y":0.00558},
    {"s":"Sinkhorn, gamma = 1e-2","x":0.4,"y":0.00574},
    {"s":"Sinkhorn, gamma = 1e-2","x":0.63,"y":0.00586},
    {"s":"Sinkhorn, gamma = 1e-2","x":0.89,"y":0.00591},
    {"s":"Sinkhorn, gamma = 1e-2","x":1.09,"y":0.00588},
    {"s":"Sinkhorn, gamma = 1e-2","x":1.33,"y":0.00583},
    {"s":"Sinkhorn, gamma = 1e-2","x":1.56,"y":0.0057},
    {"s":"Sinkhorn, gamma = 1e-2","x":1.76,"y":0.00556},
    {"s":"Sinkhorn, gamma = 1e-2","x":2.02,"y":0.00535},
    {"s":"Sinkhorn, gamma = 1e-2","x":2.24,"y":0.00513},
    {"s":"Sinkhorn, gamma = 1e-2","x":2.44,"y":0.0049},
    {"s":"Sinkhorn, gamma = 1e-2","x":2.67,"y":0.00463},
    {"s":"Sinkhorn, gamma = 1e-2","x":2.93,"y":0.00433},
    {"s":"Sinkhorn, gamma = 1e-2","x":3.22,"y":0.00403},
    {"s":"Sinkhorn, gamma = 1e-2","x":3.51,"y":0.00384},
    {"s":"Sinkhorn, gamma = 1e-2","x":3.74,"y":0.00371},
    {"s":"Sinkhorn, gamma = 1e-2","x":4.03,"y":0.00354},
    {"s":"Sinkhorn, gamma = 1e-2","x":4.32,"y":0.00341},
    {"s":"Sinkhorn, gamma = 1e-2","x":4.61,"y":0.00332},
    {"s":"Sinkhorn, gamma = 1e-2","x":4.9,"y":0.0032},
    {"s":"Sinkhorn, gamma = 1e-2","x":5.19,"y":0.00315},
    {"s":"Sinkhorn, gamma = 1e-2","x":5.48,"y":0.00313},
    {"s":"Sinkhorn, gamma = 1e-2","x":5.77,"y":0.00311},
    {"s":"Sinkhorn, gamma = 1e-2","x":6.12,"y":0.00312},
    {"s":"Sinkhorn, gamma = 1e-2","x":6.3,"y":0.00308},
    {"s":"Sinkhorn, gamma = 1e-2","x":6.52,"y":0.00309},
    {"s":"Sinkhorn, gamma = 1e-2","x":6.76,"y":0.0031},
    {"s":"Sinkhorn, gamma = 1e-2","x":7.01,"y":0.00306},
    {"s":"Sinkhorn, gamma = 1e-2","x":7.26,"y":0.00303},
    {"s":"Sinkhorn, gamma = 1e-2","x":7.53,"y":0.00303},
    {"s":"Sinkhorn, gamma = 1e-2","x":7.86,"y":0.003},
    {"s":"Sinkhorn, gamma = 1e-2","x":8.3,"y":0.00296},
    {"s":"Sinkhorn, gamma = 1e-2","x":8.57,"y":0.00295},
    {"s":"Sinkhorn, gamma = 1e-2","x":8.92,"y":0.00289},
    {"s":"Sinkhorn, gamma = 1e-2","x":9.25,"y":0.00286},
    {"s":"Sinkhorn, gamma = 1e-2","x":9.58,"y":0.00281},
    {"s":"Sinkhorn, gamma = 1e-2","x":9.8,"y":0.00278},
    {"s":"Sinkhorn, gamma = 1e-2","x":10,"y":0.00274},

    {"s":"True barycenter","x":-10,"y":0},
    {"s":"True barycenter","x":-9,"y":0},
    {"s":"True barycenter","x":-8,"y":0},
    {"s":"True barycenter","x":-7,"y":0.00001},
    {"s":"True barycenter","x":-6.5,"y":0.00002},
    {"s":"True barycenter","x":-6.11,"y":0.00003},
    {"s":"True barycenter","x":-5.76,"y":0.00005},
    {"s":"True barycenter","x":-5.41,"y":0.00008},
    {"s":"True barycenter","x":-5.07,"y":0.00013},
    {"s":"True barycenter","x":-4.72,"y":0.00023},
    {"s":"True barycenter","x":-4.39,"y":0.00036},
    {"s":"True barycenter","x":-4.07,"y":0.00054},
    {"s":"True barycenter","x":-3.76,"y":0.00078},
    {"s":"True barycenter","x":-3.48,"y":0.00108},
    {"s":"True barycenter","x":-3.23,"y":0.00143},
    {"s":"True barycenter","x":-3,"y":0.00181},
    {"s":"True barycenter","x":-2.79,"y":0.00222},
    {"s":"True barycenter","x":-2.59,"y":0.00266},
    {"s":"True barycenter","x":-2.42,"y":0.0031},
    {"s":"True barycenter","x":-2.27,"y":0.00353},
    {"s":"True barycenter","x":-2.13,"y":0.004},
    {"s":"True barycenter","x":-1.97,"y":0.00445},
    {"s":"True barycenter","x":-1.83,"y":0.00489},
    {"s":"True barycenter","x":-1.7,"y":0.00537},
    {"s":"True barycenter","x":-1.57,"y":0.00586},
    {"s":"True barycenter","x":-1.45,"y":0.00632},
    {"s":"True barycenter","x":-1.33,"y":0.00678},
    {"s":"True barycenter","x":-1.2,"y":0.00726},
    {"s":"True barycenter","x":-1.08,"y":0.00775},
    {"s":"True barycenter","x":-0.96,"y":0.00821},
    {"s":"True barycenter","x":-0.85,"y":0.00867},
    {"s":"True barycenter","x":-0.73,"y":0.00915},
    {"s":"True barycenter","x":-0.62,"y":0.00961},
    {"s":"True barycenter","x":-0.49,"y":0.01009},
    {"s":"True barycenter","x":-0.36,"y":0.01057},
    {"s":"True barycenter","x":-0.24,"y":0.01103},
    {"s":"True barycenter","x":-0.1,"y":0.01149},
    {"s":"True barycenter","x":0.06,"y":0.01196},
    {"s":"True barycenter","x":0.22,"y":0.01239},
    {"s":"True barycenter","x":0.43,"y":0.01281},
    {"s":"True barycenter","x":0.67,"y":0.01315},
    {"s":"True barycenter","x":0.85,"y":0.0133},
    {"s":"True barycenter","x":1,"y":0.01335},
    {"s":"True barycenter","x":1.15,"y":0.0133},
    {"s":"True barycenter","x":1.32,"y":0.01315},
    {"s":"True barycenter","x":1.57,"y":0.01281},
    {"s":"True barycenter","x":1.76,"y":0.01239},
    {"s":"True barycenter","x":1.93,"y":0.01196},
    {"s":"True barycenter","x":2.07,"y":0.01149},
    {"s":"True barycenter","x":2.22,"y":0.01103},
    {"s":"True barycenter","x":2.35,"y":0.01057},
    {"s":"True barycenter","x":2.49,"y":0.01011},
    {"s":"True barycenter","x":2.62,"y":0.00963},
    {"s":"True barycenter","x":2.73,"y":0.00916},
    {"s":"True barycenter","x":2.85,"y":0.00868},
    {"s":"True barycenter","x":2.98,"y":0.00819},
    {"s":"True barycenter","x":3.08,"y":0.00774},
    {"s":"True barycenter","x":3.19,"y":0.00727},
    {"s":"True barycenter","x":3.32,"y":0.00679},
    {"s":"True barycenter","x":3.42,"y":0.00633},
    {"s":"True barycenter","x":3.56,"y":0.00584},
    {"s":"True barycenter","x":3.7,"y":0.00538},
    {"s":"True barycenter","x":3.83,"y":0.0049},
    {"s":"True barycenter","x":3.96,"y":0.00444},
    {"s":"True barycenter","x":4.1,"y":0.00398},
    {"s":"True barycenter","x":4.26,"y":0.00352},
    {"s":"True barycenter","x":4.42,"y":0.00308},
    {"s":"True barycenter","x":4.6,"y":0.00262},
    {"s":"True barycenter","x":4.78,"y":0.00221},
    {"s":"True barycenter","x":4.99,"y":0.00182},
    {"s":"True barycenter","x":5.22,"y":0.00142},
    {"s":"True barycenter","x":5.46,"y":0.00108},
    {"s":"True barycenter","x":5.75,"y":0.0008},
    {"s":"True barycenter","x":6.07,"y":0.00055},
    {"s":"True barycenter","x":6.38,"y":0.00035},
    {"s":"True barycenter","x":6.72,"y":0.00024},
    {"s":"True barycenter","x":7.06,"y":0.00015},
    {"s":"True barycenter","x":7.4,"y":0.00009},
    {"s":"True barycenter","x":7.76,"y":0.00005},
    {"s":"True barycenter","x":8.1,"y":0.00002},
    {"s":"True barycenter","x":8.5,"y":0.00001},
    {"s":"True barycenter","x":9,"y":0},
    {"s":"True barycenter","x":10,"y":0}
  ]},
  "mark": {"type": "line", "strokeJoin": "round", "strokeCap": "butt", "clip": true},
  "encoding": {
    "x": {"field": "x", "type": "quantitative", "scale": {"domain": [-11, 11], "nice": false, "zero": false},
      "axis": {"values": [-10,-9,-8,-7,-6,-5,-4,-3,-2,-1,0,1,2,3,4,5,6,7,8,9,10], "format": "d", "labelPadding": 13}},
    "y": {"field": "y", "type": "quantitative", "scale": {"domain": [-0.000503, 0.01402], "nice": false, "zero": false},
      "axis": {"values": [0,0.002,0.004,0.006,0.008,0.01,0.012,0.014], "format": ".3f", "labelPadding": 16}},
    "color": {"field": "s", "type": "nominal",
      "scale": {"domain": ["KMD, Information diffusion kernel","Sinkhorn, gamma = 1e-6","Sinkhorn, gamma = 1e-4","Sinkhorn, gamma = 1e-2","True barycenter"],
        "range": ["rgba(31,119,180,0.8)","rgba(255,127,14,0.8)","rgba(44,160,44,0.8)","rgba(214,39,40,0.8)","#9467bd"]},
      "legend": {"title": null, "orient": "top-right", "offset": 32, "labelFont": "DejaVu Sans", "labelFontSize": 62.5, "labelColor": "black", "labelLimit": 3000,
        "symbolType": "M-1,0H5", "symbolSize": 2116, "symbolStrokeWidth": 12.5, "symbolOffset": -8, "labelOffset": 120,
        "encode": {"symbols": {"update": {"strokeWidth": {"signal": "datum.value === 'True barycenter' ? 20.8 : 12.5"}}}}}},
    "strokeDash": {"field": "s", "type": "nominal",
      "scale": {"domain": ["KMD, Information diffusion kernel","Sinkhorn, gamma = 1e-6","Sinkhorn, gamma = 1e-4","Sinkhorn, gamma = 1e-2","True barycenter"],
        "range": [[1,0],[1,0],[1,0],[1,0],[20.8,34.4]]}},
    "strokeWidth": {"condition": {"test": "datum.s === 'True barycenter'", "value": 20.8}, "value": 12.5}
  }
}
